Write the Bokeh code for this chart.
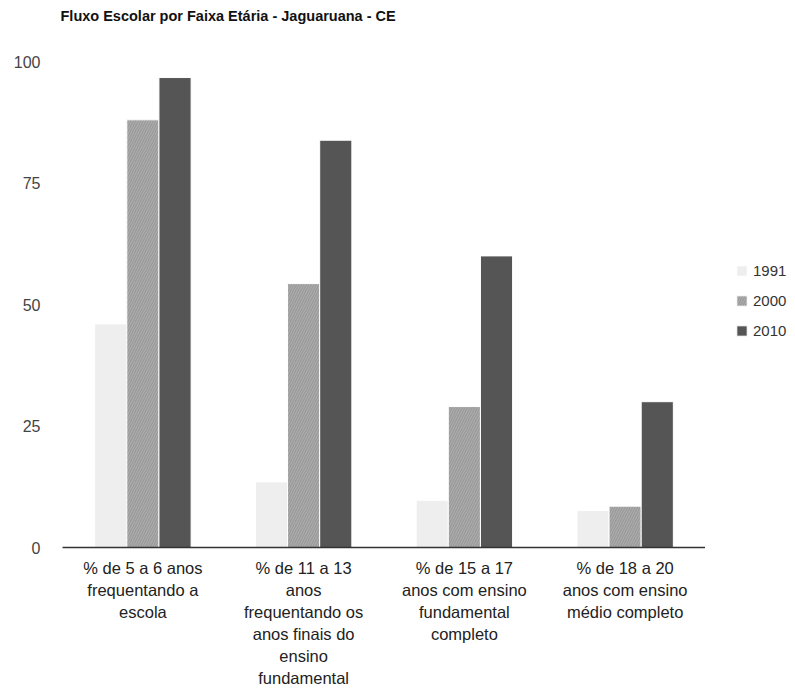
from bokeh.plotting import figure
from bokeh.layouts import row, column
from bokeh.models import (ColumnDataSource, FactorRange, Range1d, Legend, LegendItem,
                          FixedTicker, Title)
from bokeh.core.properties import value
from bokeh.transform import dodge
from bokeh.embed import file_html
from bokeh.resources import INLINE

title = "Fluxo Escolar por Faixa Etária - Jaguaruana - CE"
category_lines = [
    ["% de 5 a 6 anos", "frequentando a", "escola"],
    ["% de 11 a 13", "anos", "frequentando os", "anos finais do", "ensino", "fundamental"],
    ["% de 15 a 17", "anos com ensino", "fundamental", "completo"],
    ["% de 18 a 20", "anos com ensino", "médio completo"],
]
categories = [" ".join(l) for l in category_lines]
years = ["1991", "2000", "2010"]
v1991 = [46.0, 13.5, 9.7, 7.6]
v2000 = [88.0, 54.3, 29.0, 8.5]
v2010 = [96.7, 83.8, 60.0, 30.0]
y_ticks = [0, 25, 50, 75, 100]
colors = ["#eeeeee", "#9a9a9a", "#555555"]

FONT = "Liberation Sans"

src = ColumnDataSource(dict(cat=categories, v1991=v1991, v2000=v2000, v2010=v2010))

# ---------------- main chart ----------------
p = figure(
    x_range=FactorRange(*categories, range_padding=0),
    y_range=Range1d(0, 100),
    frame_width=643, frame_height=486,
    output_backend="svg", toolbar_location=None,
    min_border_left=62, min_border_right=0, min_border_top=61, min_border_bottom=8,
    background_fill_color="white", border_fill_color="white",
)
p.outline_line_color = None
p.grid.visible = False

# spacer title (nearest the frame) pushes the real title upwards
p.add_layout(Title(text=" ", text_font_size="1px", standoff=34), "above")
p.title.text = title
p.title.text_font = FONT
p.title.text_font_size = "14.5px"
p.title.text_font_style = "bold"
p.title.text_color = "#111111"
p.title.standoff = 2
p.title.offset = -2

renderers = []
offsets = [-0.2, 0.0, 0.2]
hatch = dict(hatch_pattern="right_diagonal_line", hatch_color="#b5b5b5",
             hatch_scale=5, hatch_weight=0.8)
for yr, off, col in zip(years, offsets, colors):
    kw = hatch if yr == "2000" else {}
    r = p.vbar(x=dodge("cat", off, range=p.x_range), top="v" + yr, width=0.2,
               source=src, fill_color=col, line_color="white", line_width=1, **kw)
    renderers.append(r)

# y axis
p.yaxis.ticker = FixedTicker(ticks=y_ticks)
p.yaxis.axis_line_color = None
p.yaxis.major_tick_line_color = None
p.yaxis.minor_tick_line_color = None
p.yaxis.major_tick_out = 0
p.yaxis.major_label_text_font = FONT
p.yaxis.major_label_text_font_size = "16px"
p.yaxis.major_label_text_color = "#444444"
p.yaxis.major_label_standoff = 22

# x axis: only the baseline; the category labels are drawn below
p.xaxis.axis_line_color = "#333333"
p.xaxis.axis_line_width = 1.5
p.xaxis.major_tick_line_color = None
p.xaxis.minor_tick_line_color = None
p.xaxis.major_tick_out = 0
p.xaxis.major_tick_in = 0
p.xaxis.major_label_standoff = 0
p.xaxis.major_label_text_font_size = "0px"
p.xaxis.major_label_text_color = None

# ---------------- legend (companion figure) ----------------
p2 = figure(width=88, height=555, x_range=Range1d(0, 1), y_range=Range1d(0, 1),
            output_backend="svg", toolbar_location=None, min_border=0,
            background_fill_color="white", border_fill_color="white")
p2.outline_line_color = None
p2.grid.visible = False
p2.axis.visible = False
legend_renderers = []
for yr, col in zip(years, colors):
    kw = hatch if yr == "2000" else {}
    legend_renderers.append(p2.vbar(x=[0.5], top=[0], width=0.01, fill_color=col,
                                    line_color="white", line_width=1, **kw))

legend = Legend(
    items=[LegendItem(label=yr, renderers=[r]) for yr, r in zip(years, legend_renderers)],
    location=(30, 207),
    border_line_color=None, background_fill_alpha=0,
    glyph_width=13, glyph_height=13, label_height=20, spacing=10,
    padding=0, margin=0, label_standoff=5,
    label_text_font=FONT, label_text_font_size="15px",
    label_text_color="#333333",
)
p2.add_layout(legend)

# ---------------- category labels (below the chart) ----------------
lab_cat, lab_line, lab_txt = [], [], []
for c, lines in zip(categories, category_lines):
    for k, t in enumerate(lines):
        lab_cat.append(c)
        lab_line.append(-k)
        lab_txt.append(t)
lab_src = ColumnDataSource(dict(cat=lab_cat, line=lab_line, txt=lab_txt))

PITCH = 22.0
H3 = 136
top_val = 12.0 / PITCH
p3 = figure(x_range=p.x_range, y_range=Range1d(top_val - H3 / PITCH, top_val),
            frame_width=643, frame_height=H3,
            x_axis_location=None, y_axis_location=None,
            output_backend="svg", toolbar_location=None,
            min_border_left=62, min_border_right=0, min_border_top=0, min_border_bottom=0,
            background_fill_color="white", border_fill_color="white")
p3.outline_line_color = None
p3.grid.visible = False
p3.text(x="cat", y="line", text="txt", source=lab_src,
        text_align="center", text_baseline="middle",
        text_font=value(FONT), text_font_size="16.5px", text_color="#222222")

layout = column(row(p, p2), p3)
open("out.html", "w").write(file_html(layout, INLINE))
